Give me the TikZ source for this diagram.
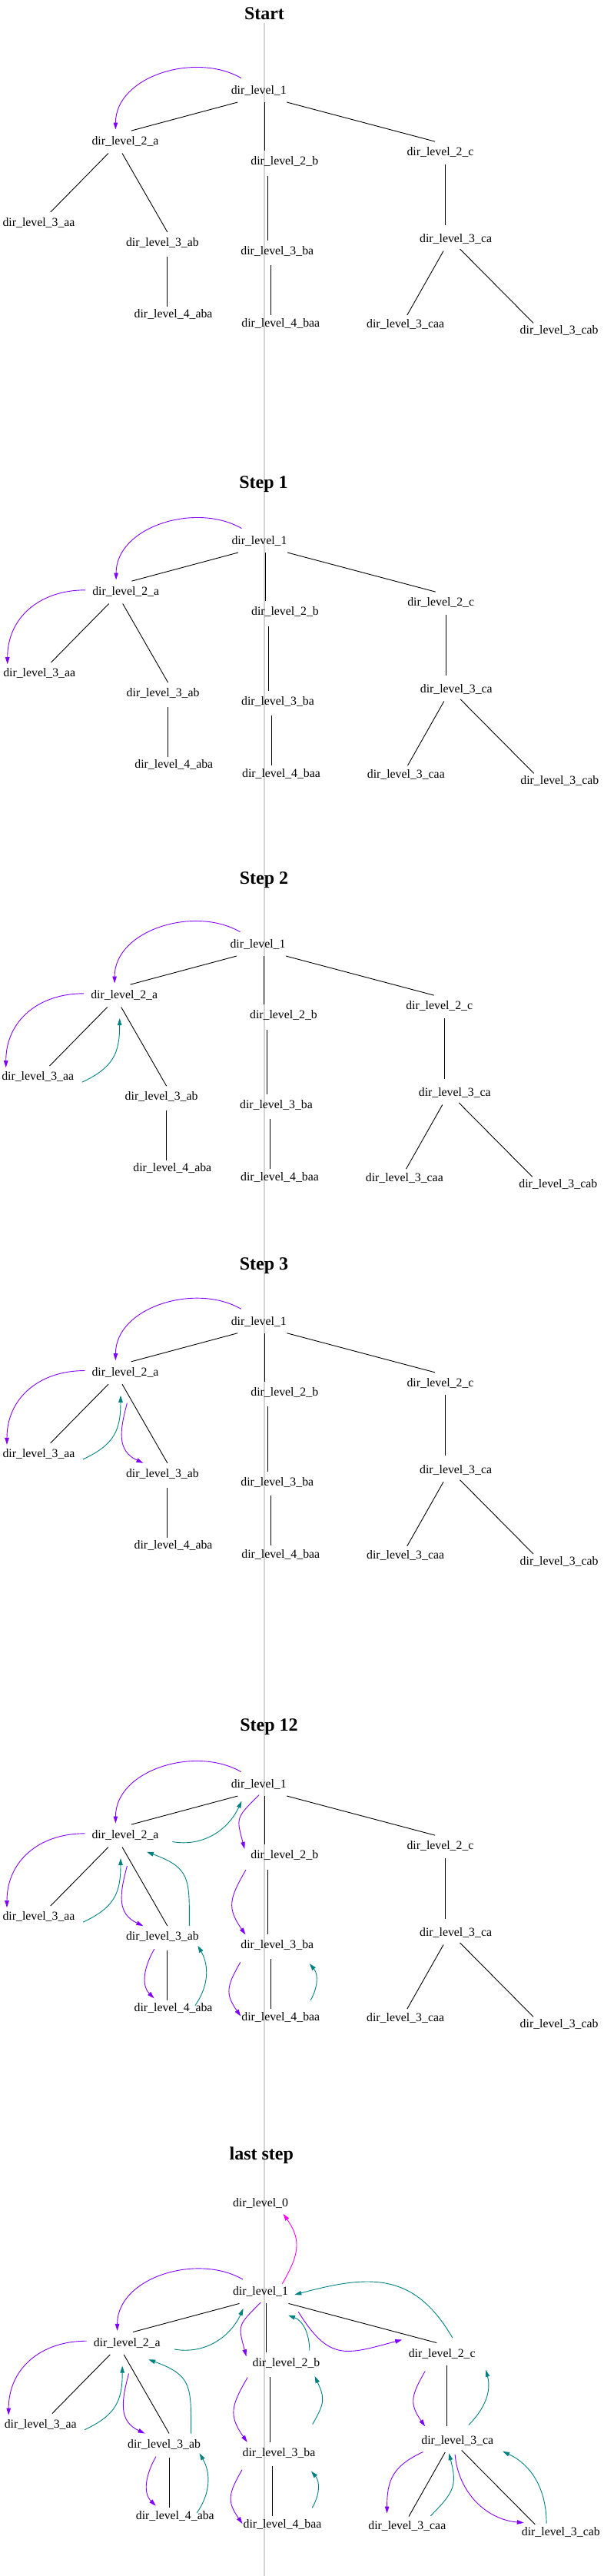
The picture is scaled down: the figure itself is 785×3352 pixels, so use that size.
\documentclass[tikz,border=0pt]{standalone}
\usepackage{fontspec}
\setmainfont{Liberation Serif}
\usetikzlibrary{positioning,arrows.meta}
\definecolor{visitcol}{HTML}{8000FF}
\definecolor{backcol}{HTML}{008080}
\definecolor{exitcol}{HTML}{FF00FF}
\definecolor{guidecol}{HTML}{D3D3D3}
\begin{document}
\begin{tikzpicture}[x=1pt,y=1pt,
  dir/.style={font=\fontsize{15.8}{18}\selectfont,text height=11.5pt,text depth=3.5pt,inner xsep=0pt,inner ysep=7pt},
  steptitle/.style={font=\bfseries\fontsize{24}{28}\selectfont,text height=16pt,text depth=5pt,inner sep=0pt},
  link/.style={draw=black,line width=0.9pt},
  visit/.style={draw=visitcol,line width=0.9pt,-{Triangle[length=9pt,width=5.5pt]}},
  back/.style={draw=backcol,line width=0.9pt,-{Triangle[length=9pt,width=5.5pt]}},
  exit/.style={draw=exitcol,line width=0.9pt,-{Triangle[length=9pt,width=5.5pt]}},
  guide/.style={draw=guidecol,line width=1.5pt}]

\useasboundingbox (-336.8,118.3) rectangle (448.2,-3233.7);
\coordinate (guidetop) at (7.2,88.3);
\coordinate (guidebot) at (7.2,-3233.7);
\draw[guide] (guidetop) -- (guidebot);

\node[dir]       (s0l1)   [on grid]                                      {dir\_level\_1};
\node[steptitle] (s0t)    [on grid,above right=98.8pt and 7.2pt of s0l1]  {Start};
\node[dir]       (s0l2a)  [on grid,below left=66.5pt and 173.8pt of s0l1]  {dir\_level\_2\_a};
\node[dir]       (s0l2b)  [on grid,below right=92.5pt and 33.5pt of s0l1]  {dir\_level\_2\_b};
\node[dir]       (s0l2c)  [on grid,below right=80.5pt and 236.2pt of s0l1] {dir\_level\_2\_c};
\node[dir]       (s0l3aa) [on grid,below left=106pt and 112.5pt of s0l2a]  {dir\_level\_3\_aa};
\node[dir]       (s0l3ab) [on grid,below right=132pt and 48.4pt of s0l2a]  {dir\_level\_3\_ab};
\node[dir]       (s0l3ba) [on grid,below left=117pt and 9.5pt of s0l2b]    {dir\_level\_3\_ba};
\node[dir]       (s0l3ca) [on grid,below right=113pt and 20.1pt of s0l2c]  {dir\_level\_3\_ca};
\node[dir]       (s0l4aba) [on grid,below right=92.8pt and 14.2pt of s0l3ab] {dir\_level\_4\_aba};
\node[dir]       (s0l4baa) [on grid,below right=93.5pt and 4.5pt of s0l3ba]  {dir\_level\_4\_baa};
\node[dir]       (s0l3caa) [on grid,below left=111pt and 65.5pt of s0l3ca]   {dir\_level\_3\_caa};
\node[dir]       (s0l3cab) [on grid,below right=118.8pt and 134.5pt of s0l3ca] {dir\_level\_3\_cab};

\draw[link] ([xshift=-27.5pt]s0l1.south) -- ([xshift=7.8pt]s0l2a.north);
\draw[link] ([xshift=7.5pt]s0l1.south) -- ([xshift=-26pt]s0l2b.north);
\draw[link] ([xshift=36.5pt]s0l1.south) -- ([xshift=-7pt]s0l2c.north);
\draw[link] ([xshift=-22pt]s0l2a.south) -- ([xshift=15.2pt]s0l3aa.north);
\draw[link] ([xshift=-4pt]s0l2a.south) -- ([xshift=6.5pt]s0l3ab.north);
\draw[link] ([xshift=-21.5pt,yshift=-3pt]s0l2b.south) -- ([xshift=-12pt]s0l3ba.north);
\draw[link] ([xshift=6.3pt]s0l2c.south) -- ([xshift=-13.8pt,yshift=4.5pt]s0l3ca.north);
\draw[link] ([xshift=6.5pt,yshift=-2.5pt]s0l3ab.south) -- ([xshift=-7.7pt,yshift=-4pt]s0l4aba.north);
\draw[link] ([xshift=-8.3pt,yshift=-2pt]s0l3ba.south) -- ([xshift=-12.8pt,yshift=-3pt]s0l4baa.north);
\draw[link] ([xshift=-16pt]s0l3ca.south) -- ([xshift=2.2pt,yshift=-2pt]s0l3caa.north);
\draw[link] ([xshift=5.4pt,yshift=2.5pt]s0l3ca.south) -- ([xshift=-33.5pt,yshift=-4.5pt]s0l3cab.north);

\draw[visit] ([shift={(-23,16.7)}]s0l1.center) to[out=150,in=90] ([shift={(-12.6,16.3)}]s0l2a.center);

\node[dir]       (s1l1)   [on grid,below right=586pt and 0.7pt of s0l1]  {dir\_level\_1};
\node[steptitle] (s1t)    [on grid,above right=74.5pt and 5.5pt of s1l1]  {Step 1};
\node[dir]       (s1l2a)  [on grid,below left=66.5pt and 173.8pt of s1l1]  {dir\_level\_2\_a};
\node[dir]       (s1l2b)  [on grid,below right=92.5pt and 33.5pt of s1l1]  {dir\_level\_2\_b};
\node[dir]       (s1l2c)  [on grid,below right=80.5pt and 236.2pt of s1l1] {dir\_level\_2\_c};
\node[dir]       (s1l3aa) [on grid,below left=106pt and 112.5pt of s1l2a]  {dir\_level\_3\_aa};
\node[dir]       (s1l3ab) [on grid,below right=132pt and 48.4pt of s1l2a]  {dir\_level\_3\_ab};
\node[dir]       (s1l3ba) [on grid,below left=117pt and 9.5pt of s1l2b]    {dir\_level\_3\_ba};
\node[dir]       (s1l3ca) [on grid,below right=113pt and 20.1pt of s1l2c]  {dir\_level\_3\_ca};
\node[dir]       (s1l4aba) [on grid,below right=92.8pt and 14.2pt of s1l3ab] {dir\_level\_4\_aba};
\node[dir]       (s1l4baa) [on grid,below right=93.5pt and 4.5pt of s1l3ba]  {dir\_level\_4\_baa};
\node[dir]       (s1l3caa) [on grid,below left=111pt and 65.5pt of s1l3ca]   {dir\_level\_3\_caa};
\node[dir]       (s1l3cab) [on grid,below right=118.8pt and 134.5pt of s1l3ca] {dir\_level\_3\_cab};

\draw[link] ([xshift=-27.5pt]s1l1.south) -- ([xshift=7.8pt]s1l2a.north);
\draw[link] ([xshift=7.5pt]s1l1.south) -- ([xshift=-26pt]s1l2b.north);
\draw[link] ([xshift=36.5pt]s1l1.south) -- ([xshift=-7pt]s1l2c.north);
\draw[link] ([xshift=-22pt]s1l2a.south) -- ([xshift=15.2pt]s1l3aa.north);
\draw[link] ([xshift=-4pt]s1l2a.south) -- ([xshift=6.5pt]s1l3ab.north);
\draw[link] ([xshift=-21.5pt,yshift=-3pt]s1l2b.south) -- ([xshift=-12pt]s1l3ba.north);
\draw[link] ([xshift=6.3pt]s1l2c.south) -- ([xshift=-13.8pt,yshift=4.5pt]s1l3ca.north);
\draw[link] ([xshift=6.5pt,yshift=-2.5pt]s1l3ab.south) -- ([xshift=-7.7pt,yshift=-4pt]s1l4aba.north);
\draw[link] ([xshift=-8.3pt,yshift=-2pt]s1l3ba.south) -- ([xshift=-12.8pt,yshift=-3pt]s1l4baa.north);
\draw[link] ([xshift=-16pt]s1l3ca.south) -- ([xshift=2.2pt,yshift=-2pt]s1l3caa.north);
\draw[link] ([xshift=5.4pt,yshift=2.5pt]s1l3ca.south) -- ([xshift=-33.5pt,yshift=-4.5pt]s1l3cab.north);

\draw[visit] ([shift={(-23,16.7)}]s1l1.center) to[out=150,in=90] ([shift={(-12.6,16.3)}]s1l2a.center);
\draw[visit] ([shift={(-52.6,3)}]s1l2a.center) to[out=180,in=90,looseness=1.1] ([shift={(-41.5,12.6)}]s1l3aa.center);

\node[dir]       (s2l1)   [on grid,below left=525pt and 2pt of s1l1]     {dir\_level\_1};
\node[steptitle] (s2t)    [on grid,above right=84.8pt and 8pt of s2l1]    {Step 2};
\node[dir]       (s2l2a)  [on grid,below left=66.5pt and 173.8pt of s2l1]  {dir\_level\_2\_a};
\node[dir]       (s2l2b)  [on grid,below right=92.5pt and 33.5pt of s2l1]  {dir\_level\_2\_b};
\node[dir]       (s2l2c)  [on grid,below right=80.5pt and 236.2pt of s2l1] {dir\_level\_2\_c};
\node[dir]       (s2l3aa) [on grid,below left=106pt and 112.5pt of s2l2a]  {dir\_level\_3\_aa};
\node[dir]       (s2l3ab) [on grid,below right=132pt and 48.4pt of s2l2a]  {dir\_level\_3\_ab};
\node[dir]       (s2l3ba) [on grid,below left=117pt and 9.5pt of s2l2b]    {dir\_level\_3\_ba};
\node[dir]       (s2l3ca) [on grid,below right=113pt and 20.1pt of s2l2c]  {dir\_level\_3\_ca};
\node[dir]       (s2l4aba) [on grid,below right=92.8pt and 14.2pt of s2l3ab] {dir\_level\_4\_aba};
\node[dir]       (s2l4baa) [on grid,below right=93.5pt and 4.5pt of s2l3ba]  {dir\_level\_4\_baa};
\node[dir]       (s2l3caa) [on grid,below left=111pt and 65.5pt of s2l3ca]   {dir\_level\_3\_caa};
\node[dir]       (s2l3cab) [on grid,below right=118.8pt and 134.5pt of s2l3ca] {dir\_level\_3\_cab};

\draw[link] ([xshift=-27.5pt]s2l1.south) -- ([xshift=7.8pt]s2l2a.north);
\draw[link] ([xshift=7.5pt]s2l1.south) -- ([xshift=-26pt]s2l2b.north);
\draw[link] ([xshift=36.5pt]s2l1.south) -- ([xshift=-7pt]s2l2c.north);
\draw[link] ([xshift=-22pt]s2l2a.south) -- ([xshift=15.2pt]s2l3aa.north);
\draw[link] ([xshift=-4pt]s2l2a.south) -- ([xshift=6.5pt]s2l3ab.north);
\draw[link] ([xshift=-21.5pt,yshift=-3pt]s2l2b.south) -- ([xshift=-12pt]s2l3ba.north);
\draw[link] ([xshift=6.3pt]s2l2c.south) -- ([xshift=-13.8pt,yshift=4.5pt]s2l3ca.north);
\draw[link] ([xshift=6.5pt,yshift=-2.5pt]s2l3ab.south) -- ([xshift=-7.7pt,yshift=-4pt]s2l4aba.north);
\draw[link] ([xshift=-8.3pt,yshift=-2pt]s2l3ba.south) -- ([xshift=-12.8pt,yshift=-3pt]s2l4baa.north);
\draw[link] ([xshift=-16pt]s2l3ca.south) -- ([xshift=2.2pt,yshift=-2pt]s2l3caa.north);
\draw[link] ([xshift=5.4pt,yshift=2.5pt]s2l3ca.south) -- ([xshift=-33.5pt,yshift=-4.5pt]s2l3cab.north);

\draw[visit] ([shift={(-23,16.7)}]s2l1.center) to[out=150,in=90] ([shift={(-12.6,16.3)}]s2l2a.center);
\draw[visit] ([shift={(-52.6,3)}]s2l2a.center) to[out=180,in=90,looseness=1.1] ([shift={(-41.5,12.6)}]s2l3aa.center);
\draw[back] ([shift={(57.5,-6.4)}]s2l3aa.center) to[out=25,in=-90,looseness=1.2] ([shift={(-6,-29.3)}]s2l2a.center);

\node[dir]       (s3l1)   [on grid,below right=490.7pt and 1.3pt of s2l1] {dir\_level\_1};
\node[steptitle] (s3t)    [on grid,above right=72.8pt and 6.7pt of s3l1]  {Step 3};
\node[dir]       (s3l2a)  [on grid,below left=66.5pt and 173.8pt of s3l1]  {dir\_level\_2\_a};
\node[dir]       (s3l2b)  [on grid,below right=92.5pt and 33.5pt of s3l1]  {dir\_level\_2\_b};
\node[dir]       (s3l2c)  [on grid,below right=80.5pt and 236.2pt of s3l1] {dir\_level\_2\_c};
\node[dir]       (s3l3aa) [on grid,below left=106pt and 112.5pt of s3l2a]  {dir\_level\_3\_aa};
\node[dir]       (s3l3ab) [on grid,below right=132pt and 48.4pt of s3l2a]  {dir\_level\_3\_ab};
\node[dir]       (s3l3ba) [on grid,below left=117pt and 9.5pt of s3l2b]    {dir\_level\_3\_ba};
\node[dir]       (s3l3ca) [on grid,below right=113pt and 20.1pt of s3l2c]  {dir\_level\_3\_ca};
\node[dir]       (s3l4aba) [on grid,below right=92.8pt and 14.2pt of s3l3ab] {dir\_level\_4\_aba};
\node[dir]       (s3l4baa) [on grid,below right=93.5pt and 4.5pt of s3l3ba]  {dir\_level\_4\_baa};
\node[dir]       (s3l3caa) [on grid,below left=111pt and 65.5pt of s3l3ca]   {dir\_level\_3\_caa};
\node[dir]       (s3l3cab) [on grid,below right=118.8pt and 134.5pt of s3l3ca] {dir\_level\_3\_cab};

\draw[link] ([xshift=-27.5pt]s3l1.south) -- ([xshift=7.8pt]s3l2a.north);
\draw[link] ([xshift=7.5pt]s3l1.south) -- ([xshift=-26pt]s3l2b.north);
\draw[link] ([xshift=36.5pt]s3l1.south) -- ([xshift=-7pt]s3l2c.north);
\draw[link] ([xshift=-22pt]s3l2a.south) -- ([xshift=15.2pt]s3l3aa.north);
\draw[link] ([xshift=-4pt]s3l2a.south) -- ([xshift=6.5pt]s3l3ab.north);
\draw[link] ([xshift=-21.5pt,yshift=-3pt]s3l2b.south) -- ([xshift=-12pt]s3l3ba.north);
\draw[link] ([xshift=6.3pt]s3l2c.south) -- ([xshift=-13.8pt,yshift=4.5pt]s3l3ca.north);
\draw[link] ([xshift=6.5pt,yshift=-2.5pt]s3l3ab.south) -- ([xshift=-7.7pt,yshift=-4pt]s3l4aba.north);
\draw[link] ([xshift=-8.3pt,yshift=-2pt]s3l3ba.south) -- ([xshift=-12.8pt,yshift=-3pt]s3l4baa.north);
\draw[link] ([xshift=-16pt]s3l3ca.south) -- ([xshift=2.2pt,yshift=-2pt]s3l3caa.north);
\draw[link] ([xshift=5.4pt,yshift=2.5pt]s3l3ca.south) -- ([xshift=-33.5pt,yshift=-4.5pt]s3l3cab.north);

\draw[visit] ([shift={(-23,16.7)}]s3l1.center) to[out=150,in=90] ([shift={(-12.6,16.3)}]s3l2a.center);
\draw[visit] ([shift={(-52.6,3)}]s3l2a.center) to[out=180,in=90,looseness=1.1] ([shift={(-41.5,12.6)}]s3l3aa.center);
\draw[back] ([shift={(57.5,-6.4)}]s3l3aa.center) to[out=25,in=-90,looseness=1.2] ([shift={(-6,-29.3)}]s3l2a.center);
\draw[visit] ([shift={(2.4,-39.3)}]s3l2a.center) to[out=255,in=155,looseness=1.2] ([shift={(-25,14.7)}]s3l3ab.center);

\node[dir]       (s12l1)   [on grid,below=602.3pt of s3l1]                 {dir\_level\_1};
\node[steptitle] (s12t)    [on grid,above right=75.1pt and 13.2pt of s12l1] {Step 12};
\node[dir]       (s12l2a)  [on grid,below left=66.5pt and 173.8pt of s12l1]  {dir\_level\_2\_a};
\node[dir]       (s12l2b)  [on grid,below right=92.5pt and 33.5pt of s12l1]  {dir\_level\_2\_b};
\node[dir]       (s12l2c)  [on grid,below right=80.5pt and 236.2pt of s12l1] {dir\_level\_2\_c};
\node[dir]       (s12l3aa) [on grid,below left=106pt and 112.5pt of s12l2a]  {dir\_level\_3\_aa};
\node[dir]       (s12l3ab) [on grid,below right=132pt and 48.4pt of s12l2a]  {dir\_level\_3\_ab};
\node[dir]       (s12l3ba) [on grid,below left=117pt and 9.5pt of s12l2b]    {dir\_level\_3\_ba};
\node[dir]       (s12l3ca) [on grid,below right=113pt and 20.1pt of s12l2c]  {dir\_level\_3\_ca};
\node[dir]       (s12l4aba) [on grid,below right=92.8pt and 14.2pt of s12l3ab] {dir\_level\_4\_aba};
\node[dir]       (s12l4baa) [on grid,below right=93.5pt and 4.5pt of s12l3ba]  {dir\_level\_4\_baa};
\node[dir]       (s12l3caa) [on grid,below left=111pt and 65.5pt of s12l3ca]   {dir\_level\_3\_caa};
\node[dir]       (s12l3cab) [on grid,below right=118.8pt and 134.5pt of s12l3ca] {dir\_level\_3\_cab};

\draw[link] ([xshift=-27.5pt]s12l1.south) -- ([xshift=7.8pt]s12l2a.north);
\draw[link] ([xshift=7.5pt]s12l1.south) -- ([xshift=-26pt]s12l2b.north);
\draw[link] ([xshift=36.5pt]s12l1.south) -- ([xshift=-7pt]s12l2c.north);
\draw[link] ([xshift=-22pt]s12l2a.south) -- ([xshift=15.2pt]s12l3aa.north);
\draw[link] ([xshift=-4pt]s12l2a.south) -- ([xshift=6.5pt]s12l3ab.north);
\draw[link] ([xshift=-21.5pt,yshift=-3pt]s12l2b.south) -- ([xshift=-12pt]s12l3ba.north);
\draw[link] ([xshift=6.3pt]s12l2c.south) -- ([xshift=-13.8pt,yshift=4.5pt]s12l3ca.north);
\draw[link] ([xshift=6.5pt,yshift=-2.5pt]s12l3ab.south) -- ([xshift=-7.7pt,yshift=-4pt]s12l4aba.north);
\draw[link] ([xshift=-8.3pt,yshift=-2pt]s12l3ba.south) -- ([xshift=-12.8pt,yshift=-3pt]s12l4baa.north);
\draw[link] ([xshift=-16pt]s12l3ca.south) -- ([xshift=2.2pt,yshift=-2pt]s12l3caa.north);
\draw[link] ([xshift=5.4pt,yshift=2.5pt]s12l3ca.south) -- ([xshift=-33.5pt,yshift=-4.5pt]s12l3cab.north);

\draw[visit] ([shift={(-23,16.7)}]s12l1.center) to[out=150,in=90] ([shift={(-12.6,16.3)}]s12l2a.center);
\draw[visit] ([shift={(-52.6,3)}]s12l2a.center) to[out=180,in=90,looseness=1.1] ([shift={(-41.5,12.6)}]s12l3aa.center);
\draw[back] ([shift={(57.5,-6.4)}]s12l3aa.center) to[out=25,in=-90,looseness=1.2] ([shift={(-6,-29.3)}]s12l2a.center);
\draw[visit] ([shift={(2.4,-39.3)}]s12l2a.center) to[out=255,in=155,looseness=1.2] ([shift={(-25,14.7)}]s12l3ab.center);
\draw[back] ([shift={(35,14.7)}]s12l3ab.center) to[out=90,in=-20,looseness=1.4] ([shift={(28,-21)}]s12l2a.center);
\draw[back] ([shift={(61.4,-7.7)}]s12l2a.center) to[out=-10,in=245] ([shift={(-22.3,-21.3)}]s12l1.center);
\draw[visit] ([shift={(-10.6,-15.3)}]s12l3ab.center) to[out=240,in=135] ([shift={(-25,13.3)}]s12l4aba.center);
\draw[back] ([shift={(28.3,4)}]s12l4aba.center) to[out=55,in=-60] ([shift={(46,-11)}]s12l3ab.center);
\draw[visit] ([shift={(0.3,-13.3)}]s12l1.center) to[out=225,in=105,looseness=1.5] ([shift={(-52,9)}]s12l2b.center);
\draw[visit] ([shift={(-50.3,-18.3)}]s12l2b.center) to[out=240,in=125,looseness=1.3] ([shift={(-41.3,14.4)}]s12l3ba.center);
\draw[visit] ([shift={(-48,-21.6)}]s12l3ba.center) to[out=240,in=125,looseness=1.3] ([shift={(-52,1.7)}]s12l4baa.center);
\draw[back] ([shift={(38.7,22.3)}]s12l4baa.center) to[out=60,in=-50] ([shift={(42,-23.3)}]s12l3ba.center);

\node[dir]       (finl1)   [on grid,below right=660.4pt and 2.2pt of s12l1] {dir\_level\_1};
\node[dir]       (finl0)   [on grid,above=115.4pt of finl1]                 {dir\_level\_0};
\node[steptitle] (fint)    [on grid,above right=62.3pt and 1.3pt of finl0]  {last step};
\node[dir]       (finl2a)  [on grid,below left=66.5pt and 173.8pt of finl1]  {dir\_level\_2\_a};
\node[dir]       (finl2b)  [on grid,below right=92.5pt and 33.5pt of finl1]  {dir\_level\_2\_b};
\node[dir]       (finl2c)  [on grid,below right=80.5pt and 236.2pt of finl1] {dir\_level\_2\_c};
\node[dir]       (finl3aa) [on grid,below left=106pt and 112.5pt of finl2a]  {dir\_level\_3\_aa};
\node[dir]       (finl3ab) [on grid,below right=132pt and 48.4pt of finl2a]  {dir\_level\_3\_ab};
\node[dir]       (finl3ba) [on grid,below left=117pt and 9.5pt of finl2b]    {dir\_level\_3\_ba};
\node[dir]       (finl3ca) [on grid,below right=113pt and 20.1pt of finl2c]  {dir\_level\_3\_ca};
\node[dir]       (finl4aba) [on grid,below right=92.8pt and 14.2pt of finl3ab] {dir\_level\_4\_aba};
\node[dir]       (finl4baa) [on grid,below right=93.5pt and 4.5pt of finl3ba]  {dir\_level\_4\_baa};
\node[dir]       (finl3caa) [on grid,below left=111pt and 65.5pt of finl3ca]   {dir\_level\_3\_caa};
\node[dir]       (finl3cab) [on grid,below right=118.8pt and 134.5pt of finl3ca] {dir\_level\_3\_cab};

\draw[link] ([xshift=-27.5pt]finl1.south) -- ([xshift=7.8pt]finl2a.north);
\draw[link] ([xshift=7.5pt]finl1.south) -- ([xshift=-26pt]finl2b.north);
\draw[link] ([xshift=36.5pt]finl1.south) -- ([xshift=-7pt]finl2c.north);
\draw[link] ([xshift=-22pt]finl2a.south) -- ([xshift=15.2pt]finl3aa.north);
\draw[link] ([xshift=-4pt]finl2a.south) -- ([xshift=6.5pt]finl3ab.north);
\draw[link] ([xshift=-21.5pt,yshift=-3pt]finl2b.south) -- ([xshift=-12pt]finl3ba.north);
\draw[link] ([xshift=6.3pt]finl2c.south) -- ([xshift=-13.8pt,yshift=4.5pt]finl3ca.north);
\draw[link] ([xshift=6.5pt,yshift=-2.5pt]finl3ab.south) -- ([xshift=-7.7pt,yshift=-4pt]finl4aba.north);
\draw[link] ([xshift=-8.3pt,yshift=-2pt]finl3ba.south) -- ([xshift=-12.8pt,yshift=-3pt]finl4baa.north);
\draw[link] ([xshift=-16pt]finl3ca.south) -- ([xshift=2.2pt,yshift=-2pt]finl3caa.north);
\draw[link] ([xshift=5.4pt,yshift=2.5pt]finl3ca.south) -- ([xshift=-33.5pt,yshift=-4.5pt]finl3cab.north);

\draw[visit] ([shift={(-23,16.7)}]finl1.center) to[out=150,in=90] ([shift={(-12.6,16.3)}]finl2a.center);
\draw[visit] ([shift={(-52.6,3)}]finl2a.center) to[out=180,in=90,looseness=1.1] ([shift={(-41.5,12.6)}]finl3aa.center);
\draw[back] ([shift={(57.5,-6.4)}]finl3aa.center) to[out=25,in=-90,looseness=1.2] ([shift={(-6,-29.3)}]finl2a.center);
\draw[visit] ([shift={(2.4,-39.3)}]finl2a.center) to[out=255,in=155,looseness=1.2] ([shift={(-25,14.7)}]finl3ab.center);
\draw[back] ([shift={(35,14.7)}]finl3ab.center) to[out=90,in=-20,looseness=1.4] ([shift={(28,-21)}]finl2a.center);
\draw[back] ([shift={(61.4,-7.7)}]finl2a.center) to[out=-10,in=245] ([shift={(-22.3,-21.3)}]finl1.center);
\draw[visit] ([shift={(-10.6,-15.3)}]finl3ab.center) to[out=240,in=135] ([shift={(-25,13.3)}]finl4aba.center);
\draw[back] ([shift={(28.3,4)}]finl4aba.center) to[out=55,in=-60] ([shift={(46,-11)}]finl3ab.center);
\draw[visit] ([shift={(0.3,-13.3)}]finl1.center) to[out=225,in=105,looseness=1.5] ([shift={(-52,9)}]finl2b.center);
\draw[visit] ([shift={(-50.3,-18.3)}]finl2b.center) to[out=240,in=125,looseness=1.3] ([shift={(-41.3,14.4)}]finl3ba.center);
\draw[visit] ([shift={(-48,-21.6)}]finl3ba.center) to[out=240,in=125,looseness=1.3] ([shift={(-52,1.7)}]finl4baa.center);
\draw[back] ([shift={(38.7,22.3)}]finl4baa.center) to[out=60,in=-50] ([shift={(42,-23.3)}]finl3ba.center);
\draw[back] ([shift={(43.7,37.7)}]finl3ba.center) to[out=60,in=-65,looseness=1.3] ([shift={(37,-16.7)}]finl2b.center);
\draw[back] ([shift={(30.3,16.7)}]finl2b.center) to[out=90,in=-20] ([shift={(36,-30)}]finl1.center);
\draw[visit] ([shift={(49.3,-25.6)}]finl1.center) to[out=-58,in=195,looseness=1.4] ([shift={(-52,18.7)}]finl2c.center);
\draw[back] ([shift={(13.7,21)}]finl2c.center) to[out=120,in=15,looseness=1.2] ([shift={(44.3,-3.3)}]finl1.center);
\draw[visit] ([shift={(-22,-22.3)}]finl2c.center) to[out=240,in=125,looseness=1.3] ([shift={(-42.2,19)}]finl3ca.center);
\draw[back] ([shift={(14.5,20.7)}]finl3ca.center) to[out=45,in=-75] ([shift={(57,-20.6)}]finl2c.center);
\draw[visit] ([shift={(-44.8,-14.3)}]finl3ca.center) to[out=205,in=90,looseness=1.2] ([shift={(-26.2,16.7)}]finl3caa.center);
\draw[back] ([shift={(30.5,13.4)}]finl3caa.center) to[out=45,in=-75,looseness=1.3] ([shift={(-11.2,-16)}]finl3ca.center);
\draw[visit] ([shift={(-3.2,-17.6)}]finl3ca.center) to[out=-85,in=175] ([shift={(-48,12.3)}]finl3cab.center);
\draw[back] ([shift={(-18.7,11.3)}]finl3cab.center) to[out=90,in=-25] ([shift={(58.8,-13.6)}]finl3ca.center);
\draw[exit] ([shift={(28.3,11)}]finl1.center) to[out=60,in=-55,looseness=1.2] ([shift={(29.6,-13.4)}]finl0.center);

\end{tikzpicture}
\end{document}
